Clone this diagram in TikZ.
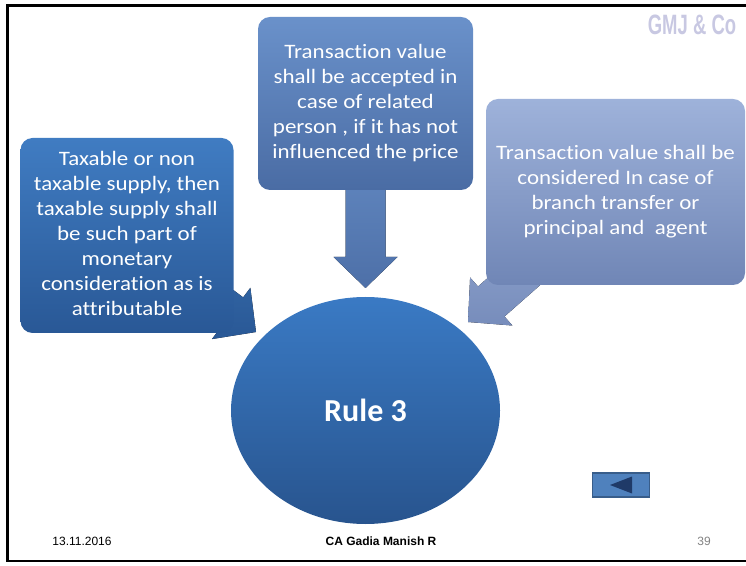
\documentclass[tikz,border=0pt]{standalone}
\usepackage{fontspec}
\usepackage{graphicx}
\setmainfont{Carlito}[Ligatures=NoCommon]
\newfontfamily\arialfont{Liberation Sans}
\usetikzlibrary{calc,shapes.geometric,backgrounds}

\definecolor{taxTop}{RGB}{64,124,194}
\definecolor{taxBot}{RGB}{41,88,150}
\definecolor{relTop}{RGB}{106,145,202}
\definecolor{relBot}{RGB}{74,108,164}
\definecolor{brTop}{RGB}{158,178,218}
\definecolor{brBot}{RGB}{112,134,182}
\definecolor{hubTop}{RGB}{58,122,196}
\definecolor{hubBot}{RGB}{40,84,142}
\definecolor{gmjGrey}{RGB}{200,200,226}
\definecolor{pageGrey}{RGB}{130,130,130}
\definecolor{btnFill}{RGB}{79,129,189}
\definecolor{btnEdge}{RGB}{56,93,138}
\definecolor{btnArrow}{RGB}{31,58,104}

% block arrow from a node centre to a tip point
\newcommand{\blockarrow}[3]{%
  \coordinate (h) at ($(#2)!31pt!(#1)$);
  \fill[#3] (#2) -- ($(h)!32pt!90:(#2)$) -- ($(h)!20pt!90:(#2)$)
    -- ($(#1)!20pt!90:(#2)$) -- ($(#1)!20pt!-90:(#2)$)
    -- ($(h)!20pt!-90:(#2)$) -- ($(h)!32pt!-90:(#2)$) -- cycle;
}
% slide text, a little wider than the font
\newcommand{\cardtext}[1]{\scalebox{1.12}[1]{\begin{tabular}{@{}c@{}}#1\end{tabular}}}

\begin{document}
\begin{tikzpicture}[x=1pt,y=1pt,
    card/.style={rounded corners=12pt, align=center, text=white, inner sep=0pt,
      font=\fontsize{20.5}{25}\selectfont},
    hub/.style={ellipse, inner sep=0pt, text=white, top color=hubTop, bottom color=hubBot,
      font=\bfseries\fontsize{32}{38}\selectfont},
    foot/.style={font=\arialfont\fontsize{12}{14}\selectfont}]
  \useasboundingbox (0,0) rectangle (746,565);
  \draw[line width=2.5pt] (7.5,4) rectangle (756,559.5);

  \node[card, minimum width=213pt, minimum height=195pt, top color=taxTop, bottom color=taxBot]
    (tax) at (127,329.5) {\cardtext{Taxable or non\\taxable supply, then\\taxable supply shall\\be such part of\\monetary\\consideration as is\\attributable}};
  \node[card, minimum width=215pt, minimum height=173pt, top color=relTop, bottom color=relBot]
    (rel) at (365.5,461.5) {\cardtext{Transaction value\\shall be accepted in\\case of related\\person , if it has not\\influenced the price}};
  \node[card, minimum width=259pt, minimum height=186pt, top color=brTop, bottom color=brBot]
    (br) at (615.5,373) {\cardtext{Transaction value shall be\\considered In case of\\branch transfer or\\principal and\ \ agent}};
  \node[hub, minimum width=269pt, minimum height=227pt] (rule) at (365.5,154.5) {Rule 3};

  \coordinate (ltip) at (256,233);
  \coordinate (mtip) at (365.5,277);
  \coordinate (rtip) at (468,243);
  \begin{scope}[on background layer]
    \blockarrow{tax.center}{ltip}{top color=taxTop!90!black, bottom color=taxBot}
    \blockarrow{rel.center}{mtip}{top color=relTop, bottom color=relBot!90!relTop}
    \blockarrow{br.center}{rtip}{top color=brTop!90!brBot, bottom color=brBot!85!brTop}
  \end{scope}

  \node[text=gmjGrey, font=\arialfont\bfseries\fontsize{28}{30}\selectfont]
    (gmj) at (692,540) {\scalebox{0.66}[1]{GMJ \& Co}};

  \node[draw=btnEdge, line width=1.5pt, fill=btnFill, minimum width=57pt, minimum height=24pt,
    inner sep=0pt] (back) at (621,80) {};
  \fill[btnArrow] ($(back.center)+(-11,0)$) -- ($(back.center)+(11,8.5)$)
    -- ($(back.center)+(11,-8.5)$) -- cycle;

  \node[foot] (date) at (82,24) {13.11.2016};
  \node[foot, font=\arialfont\bfseries\fontsize{12}{14}\selectfont] (author) at (381,24) {CA Gadia Manish R};
  \node[foot, text=pageGrey] (page) at (704,24) {39};
\end{tikzpicture}
\end{document}
